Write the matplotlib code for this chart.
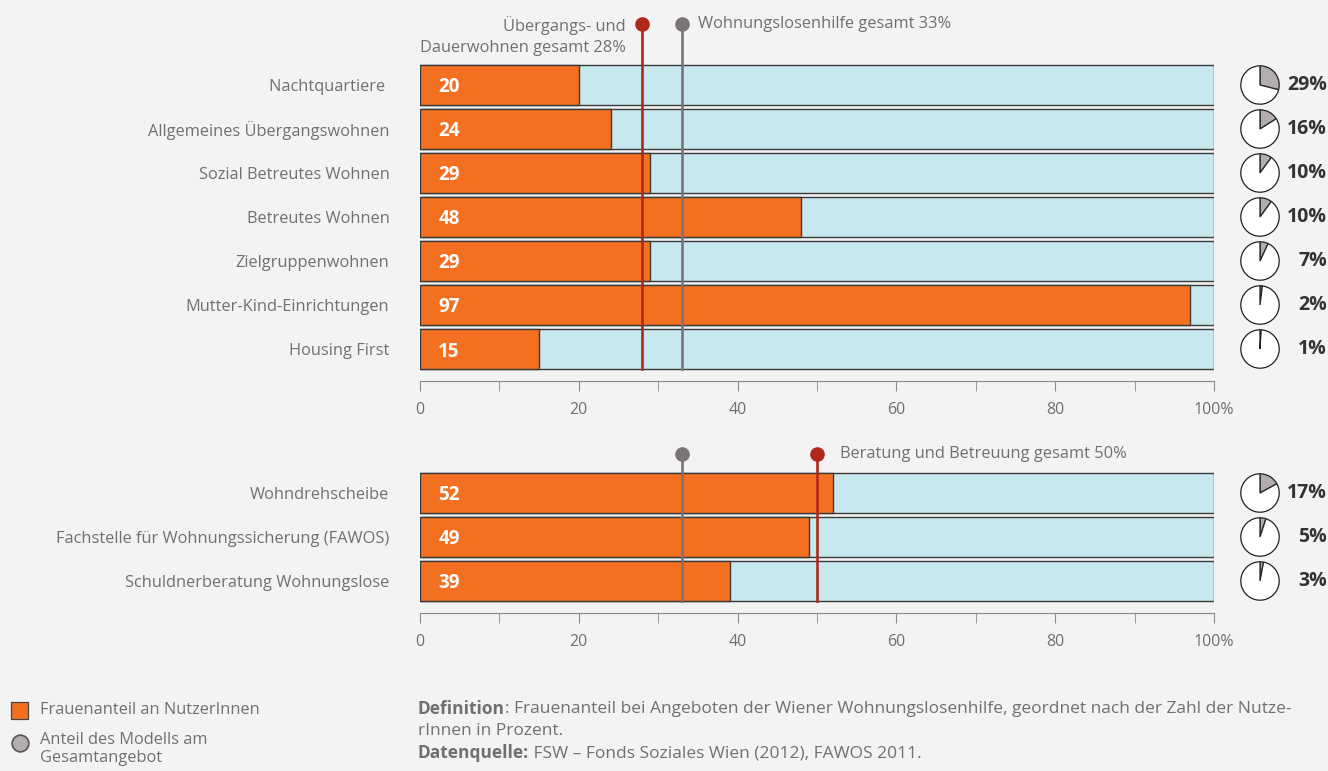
import numpy as np
import matplotlib.pyplot as plt

plt.rcParams['font.family'] = ['Open Sans', 'DejaVu Sans']

# data
top_cats = ['Nachtquartiere ', 'Allgemeines Übergangswohnen', 'Sozial Betreutes Wohnen',
            'Betreutes Wohnen', 'Zielgruppenwohnen', 'Mutter-Kind-Einrichtungen', 'Housing First']
top_women = [20, 24, 29, 48, 29, 97, 15]
top_share = [29, 16, 10, 10, 7, 2, 1]

bot_cats = ['Wohndrehscheibe', 'Fachstelle für Wohnungssicherung (FAWOS)',
            'Schuldnerberatung Wohnungslose']
bot_women = [52, 49, 39]
bot_share = [17, 5, 3]

total_all = 33
total_wohnen = 28
total_beratung = 50

W, H = 1328, 771
BG = '#f3f3f3'
ORANGE = '#f37021'
LIGHTBLUE = '#c8e8ef'
RED = '#b0281a'
GREY = '#7a7474'
TXT = '#707070'
PIEGREY = '#b3adad'
FS = 11.8

fig = plt.figure(figsize=(W / 100, H / 100), dpi=100, facecolor=BG)


def px_axes(x0, y0, x1, y1):
    # pixel box (top-left origin) -> figure axes
    return fig.add_axes([x0 / W, 1 - y1 / H, (x1 - x0) / W, (y1 - y0) / H])


def bar_panel(ax, cats, vals):
    n = len(cats)
    y = np.arange(n)
    ax.set_facecolor('none')
    ax.barh(y, [100] * n, height=0.9, color=LIGHTBLUE, edgecolor='#3a3a3a', linewidth=1)
    ax.barh(y, vals, height=0.9, color=ORANGE, edgecolor='#3a3a3a', linewidth=1)
    for yi, v in zip(y, vals):
        ax.text(2.3, yi, str(v), color='white', fontsize=13.5, fontweight='bold',
                va='center_baseline', ha='left')
    ax.set_xlim(0, 100)
    ax.set_ylim(n - 0.5, -0.5)
    ax.set_yticks(y)
    ax.set_yticklabels(cats, fontsize=FS, color=TXT)
    ax.tick_params(axis='y', length=0, pad=22)
    for s in ['top', 'right', 'left']:
        ax.spines[s].set_visible(False)
    ax.spines['bottom'].set_position(('outward', 7.5))
    ax.spines['bottom'].set_color('#8a8a8a')
    ax.set_xticks([0, 20, 40, 60, 80, 100])
    ax.set_xticklabels(['0', '20', '40', '60', '80', '100%'], fontsize=11.5, color=TXT)
    ax.set_xticks([10, 30, 50, 70, 90], minor=True)
    ax.tick_params(axis='x', which='both', length=7.5, color='#8a8a8a', pad=7)


def marker(ax, x, ytop, ybot, color):
    ax.plot([x, x], [ytop, ybot], color=color, lw=1.9, clip_on=False, zorder=5)
    ax.plot([x], [ytop], 'o', color=color, ms=9.5, clip_on=False, zorder=6)


def pies(cats_y_px, shares):
    for ypx, s in zip(cats_y_px, shares):
        r = 20
        pax = px_axes(1260 - r, ypx - r, 1260 + r, ypx + r)
        pax.pie([s, 100 - s], colors=[PIEGREY, 'white'], startangle=90, counterclock=False,
                radius=0.96, wedgeprops=dict(edgecolor='#222222', linewidth=0.9))
        pax.set_xlim(-1, 1)
        pax.set_ylim(-1, 1)
        pax.set_aspect('equal')
        fig.text(1327 / W, 1 - ypx / H, f'{s}%', ha='right', va='center', fontsize=14,
                 fontweight='bold', color='#333333')


# top panel
ax1 = px_axes(420, 63, 1214, 371)
bar_panel(ax1, top_cats, top_women)
marker(ax1, total_wohnen, -1.39, 6.45, RED)
marker(ax1, total_all, -1.39, 6.45, GREY)
ax1.text(total_wohnen - 2.1, -1.39 - 0.17, 'Übergangs- und\nDauerwohnen gesamt 28%', ha='right',
         va='top', fontsize=FS, color=TXT, linespacing=1.4)
ax1.text(total_all + 2.0, -1.39, 'Wohnungslosenhilfe gesamt 33%', ha='left', va='center',
         fontsize=FS, color=TXT)
pies([85 + 44 * i for i in range(len(top_cats))], top_share)

# bottom panel
ax2 = px_axes(420, 471, 1214, 603)
bar_panel(ax2, bot_cats, bot_women)
marker(ax2, total_all, -0.886, 2.45, GREY)
marker(ax2, total_beratung, -0.886, 2.45, RED)
ax2.text(total_beratung + 2.9, -0.886, 'Beratung und Betreuung gesamt 50%', ha='left',
         va='center', fontsize=FS, color=TXT)
pies([493 + 44 * i for i in range(len(bot_cats))], bot_share)

# legend
fig.patches.append(plt.Rectangle((11 / W, 1 - 719 / H), 17 / W, 17 / H, transform=fig.transFigure,
                                 facecolor=ORANGE, edgecolor='#444444', lw=0.9))
fig.text(40 / W, 1 - 710 / H, 'Frauenanteil an NutzerInnen', fontsize=FS, color=TXT, va='center')
lax = px_axes(0, 0, W, H)
lax.set_axis_off()
lax.set_xlim(0, W)
lax.set_ylim(H, 0)
lax.plot([20], [743], 'o', ms=12, color='#b3adad', mec='#555555', mew=1.2)
fig.text(40 / W, 1 - 732 / H, 'Anteil des Modells am\nGesamtangebot', fontsize=FS, color=TXT,
         va='top', linespacing=1.2)

# notes
NFS = 12.5
t1 = fig.text(418 / W, 1 - 709 / H, 'Definition', fontsize=NFS, color=TXT, fontweight='bold',
              va='center')
lax.annotate(': Frauenanteil bei Angeboten der Wiener Wohnungslosenhilfe, geordnet nach der Zahl der Nutze-',
             xy=(1, 0.5), xycoords=t1, va='center', fontsize=NFS, color=TXT)
fig.text(418 / W, 1 - 731 / H, 'rInnen in Prozent.', fontsize=NFS, color=TXT, va='center')
t2 = fig.text(418 / W, 1 - 753 / H, 'Datenquelle:', fontsize=NFS, color=TXT, fontweight='bold',
              va='center')
lax.annotate(' FSW – Fonds Soziales Wien (2012), FAWOS 2011.', xy=(1, 0.5), xycoords=t2,
             va='center', fontsize=NFS, color=TXT)

fig.savefig('out.png', dpi=100, facecolor=BG)
